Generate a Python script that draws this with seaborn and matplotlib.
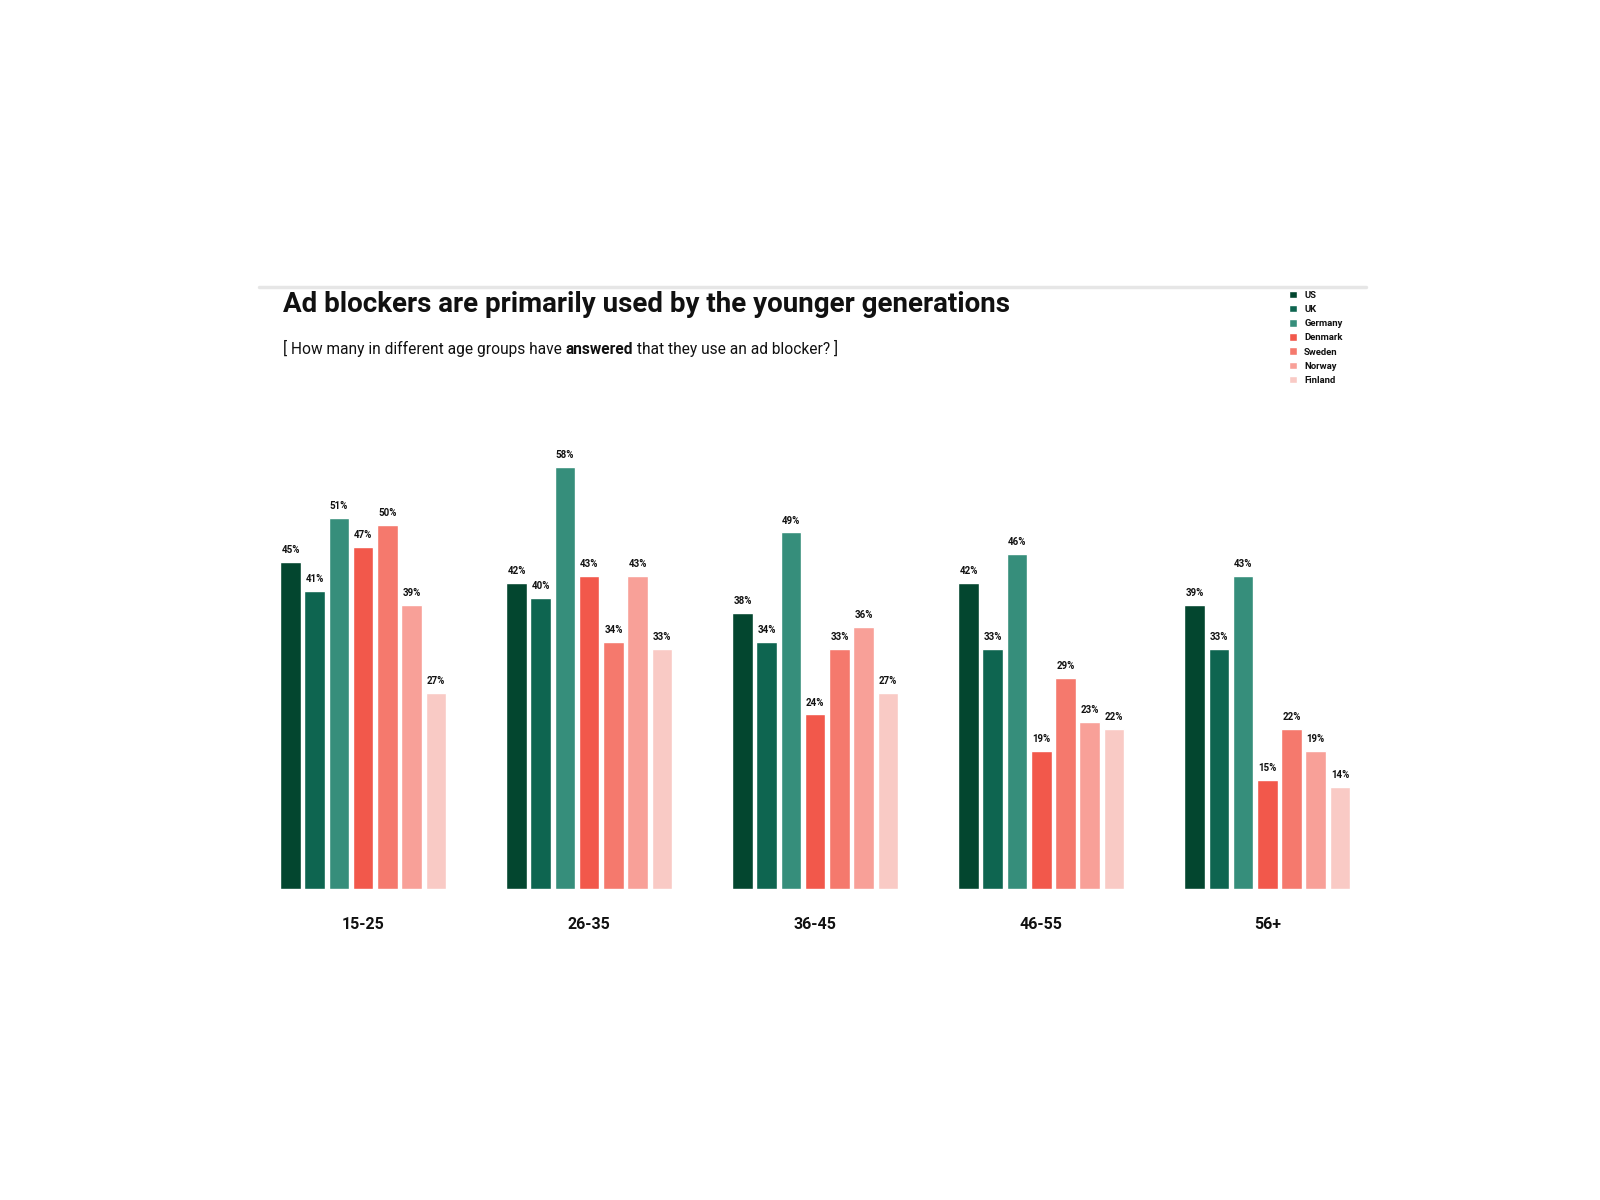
import pandas as pd
import matplotlib
matplotlib.use('Agg')
import matplotlib.pyplot as plt
import seaborn as sns
from matplotlib.patches import Patch

# Data
age_groups = ['15-25', '26-35', '36-45', '46-55', '56+']
countries = ['US', 'UK', 'Germany', 'Denmark', 'Sweden', 'Norway', 'Finland']
us = [45, 42, 38, 42, 39]
uk = [41, 40, 34, 33, 33]
germany = [51, 58, 49, 46, 43]
denmark = [47, 43, 24, 19, 15]
sweden = [50, 34, 33, 29, 22]
norway = [39, 43, 36, 23, 19]
finland = [27, 33, 27, 22, 14]
colors = ['#03462F', '#0E6550', '#368E7B', '#F2584B', '#F5796D', '#F8A098', '#F9CAC5']

series = [us, uk, germany, denmark, sweden, norway, finland]
rows = []
for country, vals in zip(countries, series):
    for age, v in zip(age_groups, vals):
        rows.append({'age': age, 'country': country, 'share': v})
df = pd.DataFrame(rows)

sns.set_theme(style='white')
plt.rcParams['font.family'] = ['Roboto', 'DejaVu Sans']

fig = plt.figure(figsize=(16, 12), dpi=100)
ax = fig.add_axes([0.174, 0.259, 0.671, 0.364])

sns.barplot(data=df, x='age', y='share', hue='country', palette=colors,
            order=age_groups, hue_order=countries, width=0.75, gap=0.15,
            ax=ax, legend=False, errorbar=None, saturation=1)

for cont in ax.containers:
    ax.bar_label(cont, fmt='%d%%', padding=5, fontsize=7, fontweight='bold',
                 color='#111111')

ax.set_xlim(-0.375, 4.375)
ax.set_ylim(0, 60)
ax.set_xlabel('')
ax.set_ylabel('')
ax.set_yticks([])
ax.tick_params(axis='x', length=0, pad=20)
for lbl in ax.get_xticklabels():
    lbl.set_fontweight('bold')
    lbl.set_fontsize(11.5)
    lbl.set_color('#111111')
sns.despine(ax=ax, left=True, bottom=True)

# top rule
fig.add_artist(plt.Line2D([0.162, 0.854], [0.761, 0.761], color='#e6e6e6', lw=2.5))

# title and subtitle
fig.text(0.177, 0.746, 'Ad blockers are primarily used by the younger generations',
         fontsize=20, fontweight='bold', color='#111111', va='center', ha='left')
t1 = fig.text(0.177, 0.710, '[ How many in different age groups have ',
              fontsize=11.2, color='#111111', va='center', ha='left')
t2 = ax.annotate('answered', xy=(1, 0), xycoords=t1, va='bottom', ha='left',
                 fontsize=11.2, fontweight='bold', color='#111111')
ax.annotate(' that they use an ad blocker? ]', xy=(1, 0), xycoords=t2,
            va='bottom', ha='left', fontsize=11.2, color='#111111')

handles = [Patch(facecolor=c, label=n) for c, n in zip(colors, countries)]
leg = fig.legend(handles=handles, loc='upper left', bbox_to_anchor=(0.803, 0.761),
                 frameon=False, fontsize=6.8, handlelength=0.85, handleheight=0.85,
                 handletextpad=0.8, labelspacing=0.55, borderaxespad=0)
for txt in leg.get_texts():
    txt.set_fontweight('bold')
    txt.set_color('#111111')

fig.savefig('out.png', dpi=100, facecolor='white')
